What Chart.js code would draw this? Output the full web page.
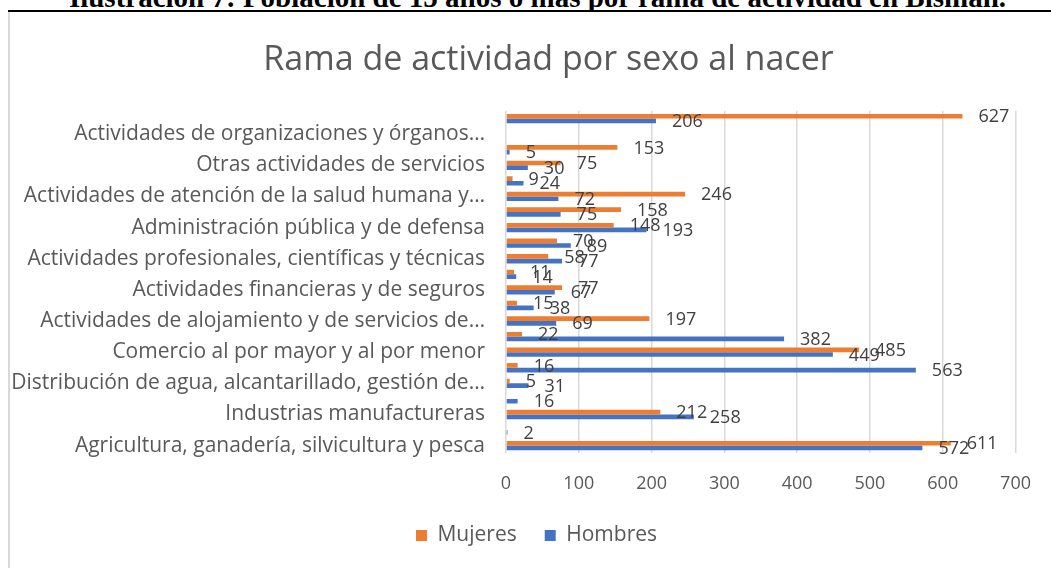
<!DOCTYPE html>
<html>
<head>
<meta charset="utf-8">
<script src="https://cdn.jsdelivr.net/npm/chart.js@4/dist/chart.umd.min.js"></script>
<style>
body{margin:0;width:1051px;height:568px;overflow:hidden;background:#fff;position:relative}
#cap{position:absolute;left:0;width:1075px;top:-19px;line-height:29px;text-align:center;font:bold 29px "Liberation Serif";color:#000;white-space:nowrap}
#rule{position:absolute;left:8px;right:0;top:10px;height:2px;background:#000}
#box{position:absolute;left:8px;top:12px;width:1043px;height:556px;border-left:2px solid #d9d9d9;background:#fff}
#wrap{position:absolute;left:0;top:1px;width:1041px;height:555px}
</style>
</head>
<body>
<div id="cap">Ilustración 7: Población de 15 años o más por rama de actividad en Bisman.</div>
<div id="rule"></div>
<div id="box"><div id="wrap"><canvas id="myChart"></canvas></div></div>
<script>
// categorias de abajo hacia arriba (Excel solo muestra una de cada dos)
var categorias = [
	'Agricultura, ganadería, silvicultura y pesca',
	'Explotación de minas y canteras',
	'Industrias manufactureras',
	'Suministro de electricidad, gas, vapor y aire acondicionado',
	'Distribución de agua, alcantarillado, gestión de…',
	'Construcción',
	'Comercio al por mayor y al por menor',
	'Transporte y almacenamiento',
	'Actividades de alojamiento y de servicios de…',
	'Información y comunicaciones',
	'Actividades financieras y de seguros',
	'Actividades inmobiliarias',
	'Actividades profesionales, científicas y técnicas',
	'Actividades de servicios administrativos y de apoyo',
	'Administración pública y de defensa',
	'Enseñanza',
	'Actividades de atención de la salud humana y…',
	'Actividades artísticas, de entretenimiento y recreativas',
	'Otras actividades de servicios',
	'Actividades de los hogares como empleadores',
	'Actividades de organizaciones y órganos…',
	'No declarado'
]
var mujeres = [611, null, 212, null, 5, 16, 485, 22, 197, 15, 77, 11, 58, 70, 148, 158, 246, 9, 75, 153, null, 627]
var hombres = [572, 2, 258, 16, 31, 563, 449, 382, 69, 38, 67, 14, 77, 89, 193, 75, 72, 24, 30, 5, null, 206]
var ejeX = [0, 100, 200, 300, 400, 500, 600, 700]

var fuente = '"Open Sans", sans-serif'
var gris = '#595959'

// etiquetas de datos al final de cada barra
var etiquetas = {
	id: 'etiquetas',
	afterDatasetsDraw(chart) {
		var ctx = chart.ctx
		ctx.save()
		ctx.font = '18px ' + fuente
		ctx.fillStyle = '#404040'
		ctx.textAlign = 'left'
		ctx.textBaseline = 'middle'
		chart.data.datasets.forEach(function(ds, i) {
			chart.getDatasetMeta(i).data.forEach(function(bar, j) {
				var v = ds.data[j]
				if (v == null) return
				ctx.fillText(String(v), bar.x + 16, bar.y + 1)
			})
		})
		ctx.restore()
	}
}

// corrimiento horizontal del titulo y la leyenda como en el original
var corrimiento = {
	id: 'corrimiento',
	afterLayout(chart) {
		chart.titleBlock.left += 34
		chart.titleBlock.right += 34
		chart.legend.left += 22
		chart.legend.right += 22
	}
}

new Chart('myChart', {
	type: 'bar',
	data: {
		labels: categorias,
		datasets: [{
			label: 'Mujeres',
			data: mujeres,
			backgroundColor: '#ED7D31',
			categoryPercentage: 0.6,
			barPercentage: 1
		}, {
			label: 'Hombres',
			data: hombres,
			backgroundColor: '#4472C4',
			categoryPercentage: 0.6,
			barPercentage: 1
		}]
	},
	options: {
		indexAxis: 'y',
		responsive: true,
		maintainAspectRatio: false,
		animation: false,
		layout: { padding: { right: 32, bottom: 12 } },
		scales: {
			x: {
				min: ejeX[0],
				max: ejeX[ejeX.length - 1],
				afterBuildTicks: function(scale) { scale.ticks = ejeX.map(function(v) { return { value: v } }) },
				afterFit: function(scale) { scale.height -= 18 },
				grid: { color: '#d9d9d9', lineWidth: 1.5, drawTicks: false },
				border: { display: false },
				ticks: { padding: 20, color: gris, font: { family: fuente, size: 18 } }
			},
			y: {
				reverse: true,
				grid: { display: false },
				border: { display: false },
				afterFit: function(scale) { scale.width = 496 },
				ticks: {
					autoSkip: false,
					padding: 13,
					color: gris,
					font: { family: fuente, size: 21 },
					callback: function(v, i) { return i % 2 === 0 ? categorias[v] : '' }
				}
			}
		},
		plugins: {
			title: {
				display: true,
				text: 'Rama de actividad por sexo al nacer',
				color: gris,
				font: { family: fuente, size: 34, weight: 'normal' },
				padding: { top: 27, bottom: 30 }
			},
			legend: {
				position: 'bottom',
				labels: {
					boxWidth: 11,
					boxHeight: 11,
					padding: 28,
					color: gris,
					font: { family: fuente, size: 21 }
				}
			},
			tooltip: { enabled: false }
		}
	},
	plugins: [etiquetas, corrimiento]
})
</script>
</body>
</html>
